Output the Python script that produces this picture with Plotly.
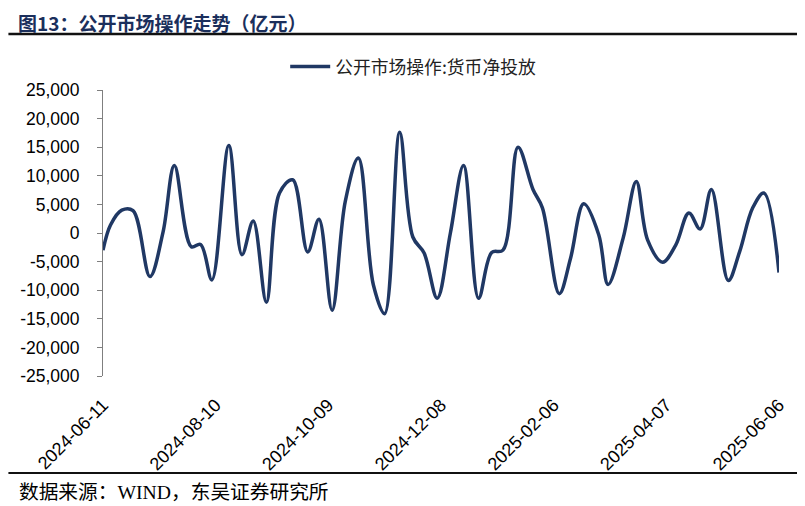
import plotly.graph_objects as go

# ---- data ----
dates = [
    "2024-06-11", "2024-06-15", "2024-06-21", "2024-06-27", "2024-07-06", "2024-07-13",
    "2024-07-19", "2024-07-28", "2024-08-02", "2024-08-08", "2024-08-17", "2024-08-24",
    "2024-08-30", "2024-09-06", "2024-09-13", "2024-09-20", "2024-09-28", "2024-10-04",
    "2024-10-11", "2024-10-18", "2024-10-25", "2024-11-02", "2024-11-08", "2024-11-16",
    "2024-11-23", "2024-11-29", "2024-12-06", "2024-12-13", "2024-12-20", "2024-12-28",
    "2025-01-04", "2025-01-10", "2025-01-18", "2025-01-26", "2025-01-31", "2025-02-09",
    "2025-02-15", "2025-02-22", "2025-03-02", "2025-03-07", "2025-03-15", "2025-03-22",
    "2025-03-28", "2025-04-05", "2025-04-12", "2025-04-19", "2025-04-25", "2025-05-01",
    "2025-05-10", "2025-05-16", "2025-05-23", "2025-05-29", "2025-06-06",
]
net_injection = [
    -3000, 1400, 4000, 3900, -7600, 200,
    11800, -2400, -2000, -8200, 15300, -3800,
    2100, -12100, 7000, 9300, -3300, 2400,
    -13500, 5500, 13100, -9100, -14100, 17600,
    -700, -3500, -11400, 0, 11800, -11400,
    -3400, -3000, 15000, 7600, 4400, -10600,
    -4400, 5100, -300, -9000, -900, 9000,
    -1200, -5100, -2100, 3500, 700, 7600,
    -8300, -3300, 4400, 7000, -6900,
]
series_name = "公开市场操作:货币净投放"
x_tickvals = ["2024-06-11", "2024-08-10", "2024-10-09", "2024-12-08",
              "2025-02-06", "2025-04-07", "2025-06-06"]
y_tickvals = [25000, 20000, 15000, 10000, 5000, 0, -5000, -10000, -15000, -20000, -25000]
y_ticktext = ["25,000", "20,000", "15,000", "10,000", "5,000", "0",
              "-5,000", "-10,000", "-15,000", "-20,000", "-25,000"]
title_text = "图13：公开市场操作走势（亿元）"
source_text = "数据来源：WIND，东吴证券研究所"

# ---- layout geometry (screen pixels; page body has an 8px margin) ----
OFF = 8
W, H = 805 - OFF, 506 - OFF
PL, PR, PT, PB = 100, 779, 90, 376          # plot area on screen
L, R, T, B = PL - OFF, W - (PR - OFF), PT - OFF, H - (PB - OFF)

def px_x(px):
    return (px - PL) / (PR - PL)

def px_y(py):
    return (PB - py) / (PB - PT)

navy = "#203864"
y_font = dict(family="Liberation Sans, Arial, sans-serif", size=17.5, color="#000000")
x_font = dict(family="Liberation Sans, Arial, sans-serif", size=18, color="#000000")

fig = go.Figure()
fig.add_trace(go.Scatter(
    x=dates, y=net_injection, mode="lines", name=series_name,
    line=dict(color=navy, width=3.5, shape="spline", smoothing=1.0),
    showlegend=True,
))

xrange = [x_tickvals[0], x_tickvals[-1]]

fig.update_layout(
    width=W, height=H,
    margin=dict(l=L, r=R, t=T, b=B, pad=0),
    paper_bgcolor="white", plot_bgcolor="white",
    showlegend=True,
    legend=dict(
        orientation="h", x=px_x(283), y=px_y(67), xanchor="left", yanchor="middle",
        font=dict(family="Noto Sans CJK SC, sans-serif", size=17.8, color="#222222"),
        bgcolor="rgba(0,0,0,0)", itemwidth=40,
    ),
    xaxis=dict(
        type="date", range=xrange, tickmode="array", tickvals=x_tickvals,
        ticktext=x_tickvals, tickangle=-45, showline=False, showgrid=False,
        zeroline=False, ticks="", tickfont=x_font, ticklabelstandoff=14,
    ),
    xaxis2=dict(
        type="date", range=xrange, overlaying="x", anchor="free", position=0.5,
        side="bottom", tickmode="array", tickvals=x_tickvals, showticklabels=False,
        showline=True, linecolor="#000000", linewidth=1.5, ticks="outside",
        ticklen=4, tickcolor="#000000", tickwidth=1, showgrid=False, zeroline=False,
    ),
    yaxis=dict(
        range=[-25000, 25000], tickmode="array", tickvals=y_tickvals,
        ticktext=y_ticktext, showgrid=False, zeroline=False, showline=True,
        linecolor="#7f7f7f", linewidth=1, ticks="outside", ticklen=5,
        tickcolor="#7f7f7f", tickfont=y_font, ticklabelstandoff=14,
    ),
)

# title, source and rules
fig.add_annotation(
    text="<b>" + title_text + "</b>", xref="paper", yref="paper",
    x=px_x(14), y=px_y(OFF + 0.5), xanchor="left", yanchor="top", showarrow=False,
    font=dict(family="Noto Sans CJK SC, sans-serif", size=19, color="#1b2f5c"),
    borderpad=0,
)
fig.add_annotation(
    text=source_text, xref="paper", yref="paper",
    x=px_x(14), y=px_y(492), xanchor="left", yanchor="middle", showarrow=False,
    font=dict(family="Liberation Serif, Noto Sans CJK SC, serif", size=19.7, color="#000000"),
)
fig.add_shape(type="line", xref="paper", yref="paper",
              x0=px_x(5), x1=px_x(800), y0=px_y(34), y1=px_y(34),
              line=dict(color="#111111", width=2.5))
fig.add_shape(type="line", xref="paper", yref="paper",
              x0=px_x(5), x1=px_x(800), y0=px_y(473), y1=px_y(473),
              line=dict(color="#111111", width=2))

fig.write_html("out.html")
